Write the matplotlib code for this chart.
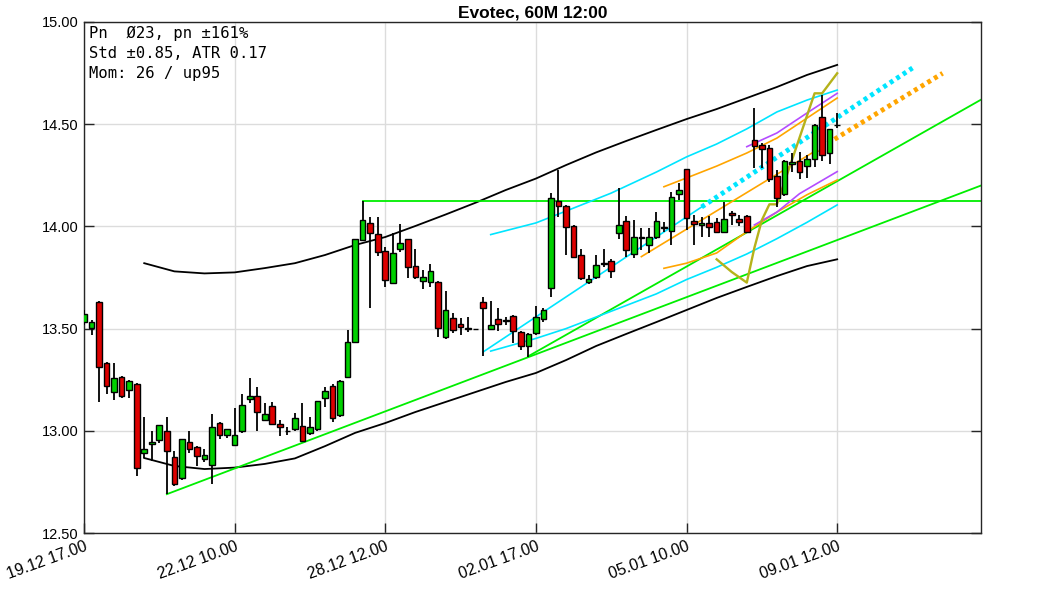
import matplotlib
matplotlib.use("Agg")
import matplotlib.pyplot as plt

TITLE = "Evotec, 60M 12:00"
INFO_LINES = ["Pn  Ø23, pn ±161%", "Std ±0.85, ATR 0.17", "Mom: 26 / up95"]

TICK_POS = [0, 20, 40, 60, 80, 100]
TICK_LABELS = ["19.12 17.00", "22.12 10.00", "28.12 12.00",
               "02.01 17.00", "05.01 10.00", "09.01 12.00"]
Y_TICKS = [12.5, 13.0, 13.5, 14.0, 14.5, 15.0]

# 60 minute candles, index 0..100
OPEN = [13.53, 13.505, 13.63, 13.33, 13.19, 13.265, 13.20, 13.23, 12.89, 12.935,
        12.955, 13.00, 12.87, 12.77, 12.944, 12.92, 12.86, 12.833, 13.04, 12.98,
        12.93, 13.00, 13.155, 13.17, 13.053, 13.12, 13.032, 12.998, 13.007, 13.023,
        12.988, 13.007, 13.16, 13.22, 13.077, 13.262, 13.436, 13.933, 14.015, 13.961,
        13.88, 13.725, 13.889, 13.937, 13.806, 13.734, 13.73, 13.73, 13.461, 13.551,
        13.522, 13.50, 13.497, 13.632, 13.50, 13.547, 13.538, 13.563, 13.482, 13.415,
        13.477, 13.546, 13.697, 14.124, 14.10, 14.002, 13.86, 13.726, 13.751, 13.815,
        13.83, 13.966, 14.024, 13.865, 13.945, 13.909, 13.947, 13.993, 13.978, 14.159,
        14.279, 14.026, 14.007, 14.018, 14.023, 13.975, 14.067, 14.036, 14.051, 14.423,
        14.40, 14.382, 14.247, 14.157, 14.305, 14.322, 14.296, 14.328, 14.534, 14.361,
        14.494]
HIGH = [13.59, 13.54, 13.635, 13.335, 13.33, 13.27, 13.25, 13.232, 13.07, 13.00,
        13.03, 13.07, 12.90, 12.96, 13.00, 12.925, 12.91, 13.08, 13.045, 13.01,
        13.11, 13.18, 13.26, 13.215, 13.135, 13.14, 13.053, 13.02, 13.088, 13.135,
        13.07, 13.146, 13.216, 13.23, 13.25, 13.493, 13.94, 14.124, 14.048, 14.044,
        13.90, 13.969, 14.01, 13.94, 13.888, 13.787, 13.816, 13.735, 13.686, 13.575,
        13.551, 13.558, 13.497, 13.656, 13.635, 13.60, 13.558, 13.565, 13.49, 13.478,
        13.612, 13.60, 14.165, 14.276, 14.105, 14.005, 13.888, 13.76, 13.86, 13.888,
        13.84, 14.186, 14.05, 14.031, 13.99, 13.99, 14.072, 14.02, 14.17, 14.211,
        14.28, 14.056, 14.048, 14.05, 14.04, 14.121, 14.075, 14.056, 14.055, 14.578,
        14.41, 14.398, 14.276, 14.325, 14.358, 14.366, 14.35, 14.50, 14.643, 14.475,
        14.557]
LOW = [13.52, 13.47, 13.14, 13.18, 13.15, 13.16, 13.16, 12.78, 12.865, 12.85,
       12.94, 12.69, 12.73, 12.76, 12.89, 12.83, 12.845, 12.74, 12.96, 12.965,
       12.925, 12.99, 13.135, 13.00, 13.05, 13.03, 12.975, 12.98, 13.0, 12.95,
       12.98, 13.0, 13.115, 13.044, 13.07, 13.26, 13.43, 13.93, 13.60, 13.855,
       13.705, 13.72, 13.876, 13.746, 13.741, 13.695, 13.702, 13.461, 13.448, 13.477,
       13.469, 13.485, 13.497, 13.366, 13.50, 13.49, 13.517, 13.428, 13.395, 13.363,
       13.47, 13.53, 13.656, 14.048, 13.86, 13.845, 13.738, 13.72, 13.745, 13.80,
       13.746, 13.937, 13.852, 13.844, 13.885, 13.868, 13.94, 13.975, 13.91, 14.13,
       13.982, 13.909, 13.947, 13.95, 13.97, 13.97, 14.007, 14.0, 13.97, 14.284,
       14.284, 14.218, 14.093, 14.15, 14.268, 14.23, 14.235, 14.289, 14.322, 14.305,
       14.48]
CLOSE = [13.57, 13.53, 13.31, 13.22, 13.26, 13.17, 13.245, 12.82, 12.91, 12.945,
         13.03, 12.90, 12.74, 12.96, 12.91, 12.877, 12.88, 13.02, 12.98, 13.007,
         12.98, 13.126, 13.17, 13.09, 13.082, 13.032, 13.017, 13.0, 13.061, 12.952,
         13.017, 13.146, 13.196, 13.061, 13.245, 13.433, 13.937, 14.031, 13.969, 13.876,
         13.738, 13.871, 13.92, 13.803, 13.754, 13.751, 13.782, 13.502, 13.591, 13.493,
         13.509, 13.502, 13.497, 13.599, 13.52, 13.521, 13.54, 13.49, 13.417, 13.473,
         13.558, 13.59, 14.137, 14.101, 13.999, 13.849, 13.746, 13.743, 13.811, 13.82,
         13.78, 14.007, 13.885, 13.947, 13.95, 13.947, 14.028, 13.997, 14.145, 14.178,
         14.043, 14.012, 14.018, 13.995, 13.975, 14.037, 14.054, 14.023, 13.974, 14.394,
         14.377, 14.23, 14.137, 14.322, 14.317, 14.268, 14.328, 14.496, 14.35, 14.475,
         14.496]

# channel around the trend (black)
BAND_X = [8, 12, 16, 20, 24, 28, 32, 36, 40, 44, 48, 52, 56, 60, 64, 68, 72, 76,
          80, 84, 88, 92, 96, 100]
BAND_UP = [13.82, 13.78, 13.77, 13.775, 13.796, 13.82, 13.86, 13.909, 13.948, 14.002,
           14.058, 14.116, 14.178, 14.234, 14.30, 14.362, 14.418, 14.472, 14.525, 14.574,
           14.628, 14.682, 14.741, 14.79]
BAND_LO = [12.867, 12.828, 12.813, 12.82, 12.838, 12.865, 12.925, 12.99, 13.038, 13.092,
           13.141, 13.19, 13.239, 13.283, 13.346, 13.415, 13.474, 13.532, 13.591, 13.65,
           13.704, 13.757, 13.806, 13.839]

# short term channel (cyan)
CYAN_X = [54, 60, 64, 70, 76, 80, 84, 88, 92, 96, 100]
CYAN_UP = [13.96, 14.017, 14.075, 14.163, 14.266, 14.34, 14.403, 14.477, 14.56, 14.618, 14.667]
CYAN_LO = [13.39, 13.452, 13.50, 13.585, 13.67, 13.74, 13.80, 13.865, 13.94, 14.02, 14.105]
CYAN_MID_X = [53, 82]
CYAN_MID = [13.386, 14.095]
CYAN_PROJ_X = [82, 110]
CYAN_PROJ = [14.095, 14.775]

# orange channel
ORANGE_X = [77, 80, 84, 88, 92, 96, 100]
ORANGE_UP = [14.194, 14.237, 14.295, 14.359, 14.432, 14.53, 14.628]
ORANGE_LO = [13.795, 13.82, 13.87, 13.974, 14.07, 14.155, 14.227]
ORANGE_MID_X = [74, 97]
ORANGE_MID = [13.852, 14.367]
ORANGE_PROJ_X = [97, 114]
ORANGE_PROJ = [14.367, 14.749]

# violet channel
VIOLET_UP_X = [88, 92, 96, 100]
VIOLET_UP = [14.39, 14.457, 14.555, 14.651]
VIOLET_LO_X = [89, 92, 95, 100]
VIOLET_LO = [14.007, 14.07, 14.16, 14.268]

# momentum line (olive)
OLIVE_X = [84, 86, 88, 89, 90, 91, 92, 97, 98, 100]
OLIVE = [13.839, 13.777, 13.725, 13.894, 14.031, 14.108, 14.108, 14.651, 14.651, 14.749]

# support / resistance (green)
RESIST_X = [37, 119.1]
RESIST = [14.124, 14.124]
TREND1_X = [11, 119.1]
TREND1 = [12.69, 14.20]
TREND2_X = [59, 119.1]
TREND2 = [13.365, 14.62]

UP_COLOR = "#00d000"
DOWN_COLOR = "#dd0000"
TICK_FONT = "Liberation Sans"

fig = plt.figure(figsize=(10.63, 5.91), dpi=100)
ax = fig.add_axes([0.079, 0.0981, 0.8439, 0.8647])

# overlays
ax.plot(BAND_X, BAND_UP, color="black", lw=1.3, zorder=2)
ax.plot(BAND_X, BAND_LO, color="black", lw=1.3, zorder=2)
ax.plot(RESIST_X, RESIST, color="#00ee00", lw=1.3, zorder=2)
ax.plot(TREND1_X, TREND1, color="#00ee00", lw=1.3, zorder=2)
ax.plot(TREND2_X, TREND2, color="#00ee00", lw=1.3, zorder=2)
ax.plot(CYAN_X, CYAN_UP, color="#00e5ff", lw=1.2, zorder=2)
ax.plot(CYAN_X, CYAN_LO, color="#00e5ff", lw=1.2, zorder=2)
ax.plot(CYAN_MID_X, CYAN_MID, color="#00e5ff", lw=1.2, zorder=2)
ax.plot(CYAN_PROJ_X, CYAN_PROJ, color="#00e5ff", lw=3.5, ls=(0, (0.8, 0.8)), zorder=2)
ax.plot(ORANGE_X, ORANGE_UP, color="#ffa500", lw=1.2, zorder=2)
ax.plot(ORANGE_X, ORANGE_LO, color="#ffa500", lw=1.2, zorder=2)
ax.plot(ORANGE_MID_X, ORANGE_MID, color="#ffa500", lw=1.2, zorder=2)
ax.plot(ORANGE_PROJ_X, ORANGE_PROJ, color="#ffa500", lw=3.5, ls=(0, (0.8, 0.8)), zorder=2)
ax.plot(VIOLET_UP_X, VIOLET_UP, color="#b44cff", lw=1.2, zorder=2)
ax.plot(VIOLET_LO_X, VIOLET_LO, color="#b44cff", lw=1.2, zorder=2)
ax.plot(OLIVE_X, OLIVE, color="#b5b21a", lw=1.7, zorder=2)

# candles
x = list(range(len(OPEN)))
ax.vlines(x, LOW, HIGH, color="black", lw=1.3, zorder=3)
bottoms = [min(o, c) for o, c in zip(OPEN, CLOSE)]
heights = [abs(c - o) for o, c in zip(OPEN, CLOSE)]
colors = [UP_COLOR if c >= o else DOWN_COLOR for o, c in zip(OPEN, CLOSE)]
ax.bar(x, heights, bottom=bottoms, width=0.75, color=colors,
       edgecolor="black", linewidth=1.0, zorder=4)

ax.set_xlim(0, 119.1)
ax.set_ylim(12.5, 15.0)
ax.set_xticks(TICK_POS)
ax.set_xticklabels(TICK_LABELS, rotation=20, ha="right", rotation_mode="anchor",
                   family=TICK_FONT, fontsize=11.5)
ax.set_yticks(Y_TICKS)
ax.set_yticklabels([f"{v:.2f}" for v in Y_TICKS], family=TICK_FONT, fontsize=10.5)
ax.tick_params(direction="in", length=7, width=1, top=False, right=True,
               colors="#262626", labelcolor="black", pad=4)
ax.grid(True, color="#dcdcdc", lw=1, zorder=0)
ax.set_axisbelow(True)
for sp in ax.spines.values():
    sp.set_color("#262626")
    sp.set_linewidth(1)

ax.set_title(TITLE, fontsize=12.5, fontweight="bold", family="Liberation Sans", pad=3)
for k, line in enumerate(INFO_LINES):
    ax.text(0.006, 0.992 - k * 0.039, line, transform=ax.transAxes, va="top", ha="left",
            family="DejaVu Sans Mono", fontsize=11.2, zorder=5)

fig.savefig("out.png", dpi=100, facecolor="white")
